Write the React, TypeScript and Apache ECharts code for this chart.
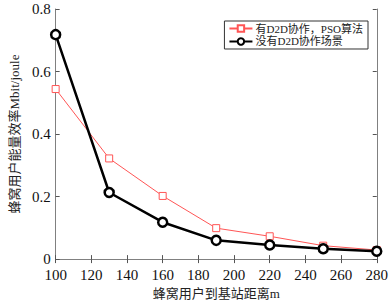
import React, { useEffect, useRef } from "react";
import * as echarts from "echarts";

const distances = [100, 130, 160, 190, 220, 250, 280];
const psoValues = [0.544, 0.322, 0.202, 0.099, 0.073, 0.043, 0.029];
const noD2DValues = [0.718, 0.213, 0.118, 0.06, 0.045, 0.033, 0.025];
const seriesNames = ["有D2D协作，PSO算法", "没有D2D协作场景"];

const FONT = "'Liberation Serif', 'Times New Roman', 'Noto Sans CJK SC', serif";

export default function App() {
  const ref = useRef<HTMLDivElement>(null);
  useEffect(() => {
    if (!ref.current) return;
    const chart = echarts.init(ref.current, undefined, { renderer: "svg" });
    const axisLine = { show: true, lineStyle: { color: "#808080", width: 1 } };
    const tick = { show: true, inside: true, length: 4, lineStyle: { color: "#555" } };
    chart.setOption({
      animation: false,
      backgroundColor: "#ffffff",
      grid: { left: 42, right: 11, top: 9, bottom: 37, containLabel: false },
      legend: {
        right: 23,
        top: 21,
        orient: "vertical",
        itemGap: 2,
        itemWidth: 23,
        itemHeight: 8,
        borderColor: "#333",
        borderWidth: 1,
        padding: [2, 5, 2, 4],
        backgroundColor: "#fff",
        textStyle: { fontFamily: FONT, fontSize: 11, color: "#222", padding: [0, 0, 0, -2] },
        data: seriesNames,
      },
      xAxis: [
        {
          type: "value",
          min: 100,
          max: 280,
          interval: 20,
          position: "bottom",
          axisLine,
          axisTick: tick,
          splitLine: { show: false },
          axisLabel: { fontFamily: FONT, fontSize: 15, color: "#111", margin: 8 },
          name: "蜂窝用户到基站距离m",
          nameLocation: "middle",
          nameGap: 25,
          nameTextStyle: { fontFamily: FONT, fontSize: 13, color: "#222" },
        },
        {
          type: "value",
          min: 100,
          max: 280,
          interval: 20,
          position: "top",
          axisLine,
          axisTick: tick,
          splitLine: { show: false },
          axisLabel: { show: false },
        },
      ],
      yAxis: [
        {
          type: "value",
          min: 0,
          max: 0.8,
          interval: 0.2,
          position: "left",
          axisLine,
          axisTick: tick,
          splitLine: { show: false },
          axisLabel: {
            fontFamily: FONT,
            fontSize: 15,
            color: "#111",
            margin: 5,
            formatter: (v: number) => (v === 0 ? "0" : v.toFixed(1)),
          },
          name: "蜂窝用户能量效率Mbit/joule",
          nameLocation: "middle",
          nameGap: 28,
          nameTextStyle: { fontFamily: FONT, fontSize: 13, color: "#222" },
        },
        {
          type: "value",
          min: 0,
          max: 0.8,
          interval: 0.2,
          position: "right",
          axisLine,
          axisTick: tick,
          splitLine: { show: false },
          axisLabel: { show: false },
        },
      ],
      series: [
        {
          name: seriesNames[0],
          type: "line",
          data: distances.map((d, i) => [d, psoValues[i]]),
          symbol: "rect",
          symbolSize: 7,
          showAllSymbol: true,
          lineStyle: { color: "#ff5555", width: 1 },
          itemStyle: { color: "#fff", borderColor: "#ff5555", borderWidth: 1 },
        },
        {
          name: seriesNames[1],
          type: "line",
          data: distances.map((d, i) => [d, noD2DValues[i]]),
          symbol: "circle",
          symbolSize: 9,
          showAllSymbol: true,
          lineStyle: { color: "#000", width: 2.5 },
          itemStyle: { color: "#fff", borderColor: "#000", borderWidth: 2.5 },
        },
      ],
    });
    return () => chart.dispose();
  }, []);
  return (
    <div
      ref={ref}
      style={{ position: "fixed", left: 0, top: 0, width: 391, height: 305 }}
    />
  );
}
